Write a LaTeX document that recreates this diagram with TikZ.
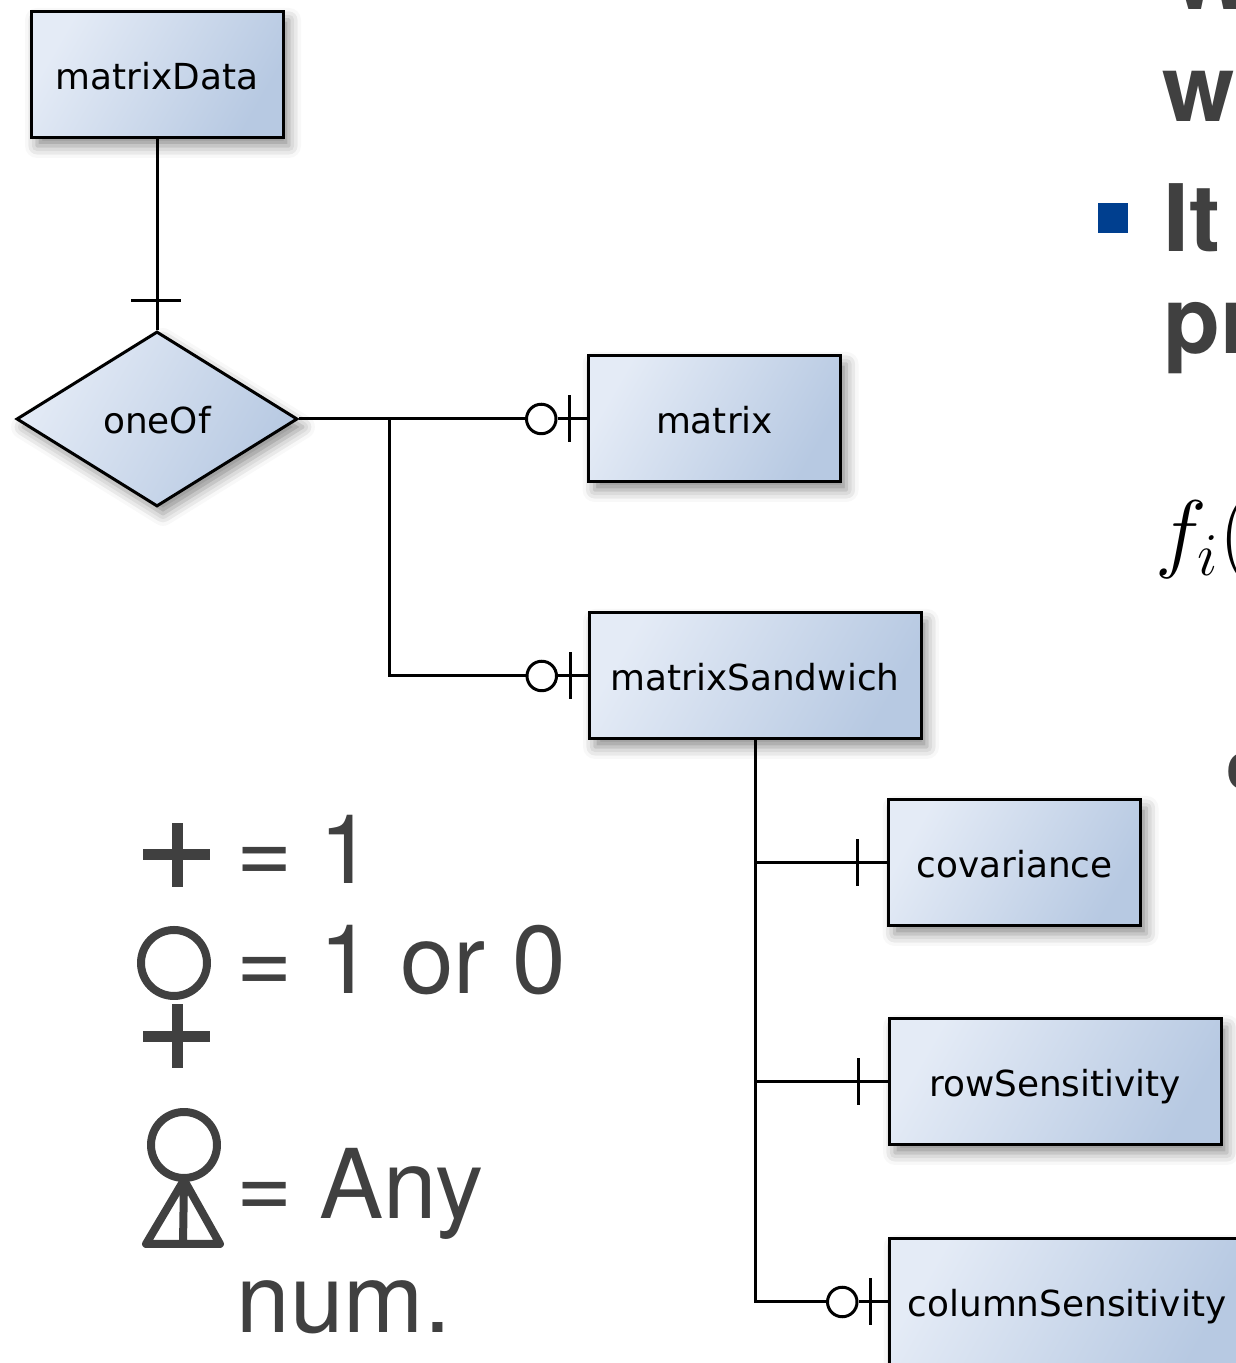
\documentclass[tikz,border=0pt]{standalone}
\usepackage{xcolor}
\usepackage{fontspec}
\usepackage{tikz}
\setmainfont{DejaVu Sans}
\setsansfont{TeX Gyre Heros}
\usetikzlibrary{positioning,shapes.geometric,shadows.blur}

\definecolor{boxlight}{HTML}{E4EBF6}
\definecolor{boxdark}{HTML}{B7C9E2}
\definecolor{slidegray}{HTML}{404040}
\definecolor{slideblue}{HTML}{003F8F}

\tikzset{
    boxlook/.style={draw=black, line width=.03cm, top color=boxlight, bottom color=boxdark, shading angle=60,
                    blur shadow={shadow xshift=.06cm, shadow yshift=-.08cm, shadow blur radius=.12cm, shadow opacity=45}},
    entity/.style={boxlook, rectangle, minimum width=2.52cm, minimum height=1.26cm, inner sep=.0cm,
                   text height=.30cm, text depth=0pt, font=\fontsize{10.2}{12}\selectfont},
    choice/.style={boxlook, diamond, aspect=1.6, minimum width=2.81cm, minimum height=1.75cm, inner sep=0pt,
                   text height=.30cm, text depth=0pt, font=\fontsize{10.2}{12}\selectfont},
    tickv/.style={rectangle, fill=black, minimum width=.03cm, minimum height=.47cm, inner sep=0pt, outer sep=0pt},
    tickh/.style={rectangle, fill=black, minimum width=.5cm, minimum height=.03cm, inner sep=0pt, outer sep=0pt},
    zerocirc/.style={circle, draw=black, fill=white, line width=.03cm, minimum size=.295cm, inner sep=0pt},
    link/.style={draw=black, line width=.03cm},
    legendtext/.style={anchor=base west, inner sep=0pt, text=slidegray, align=left,
                       font=\sffamily\fontsize{27.4}{32.4}\selectfont},
    slidetext/.style={legendtext, font=\sffamily\bfseries\fontsize{26.5}{32.4}\selectfont},
    plusline/.style={draw=slidegray, line width=.11cm},
    legendline/.style={draw=slidegray, line width=.08cm, line join=round}
}

\begin{document}
\begin{tikzpicture}
    \useasboundingbox (0,0) rectangle (12.36,13.63);

    \node[entity] (matrix_data) at (1.57, 12.88) {matrixData};
    \node[choice] (one_of) at (1.57, 9.44) {oneOf};
    \node[entity] (matrix) at (7.145, 9.44) {matrix};
    \node[entity, minimum width=3.32cm] (matrix_sandwich) at (7.55, 6.87) {matrixSandwich};
    \node[entity] (covariance) at (10.145, 5.00) {covariance};
    \node[entity, minimum width=3.32cm] (row_sensitivity) at (10.55, 2.81) {rowSensitivity};
    \node[entity, anchor=west, minimum width=3.55cm] (column_sensitivity) at (8.88, 0.61) {columnSensitivity};

    % Cardinality marks
    \node[tickh] (tick_data) at (1.56, 10.62) {};
    \node[tickv, left=.16cm of matrix.west] (tick_matrix) {};
    \node[zerocirc, left=.105cm of tick_matrix] (zero_matrix) {};
    \node[tickv, left=.16cm of matrix_sandwich.west] (tick_sandwich) {};
    \node[zerocirc, left=.105cm of tick_sandwich] (zero_sandwich) {};
    \node[tickv, left=.28cm of covariance.west] (tick_covariance) {};
    \node[tickv, left=.28cm of row_sensitivity.west] (tick_row) {};
    \node[tickv, left=.16cm of column_sensitivity.west] (tick_column) {};
    \node[zerocirc, left=.105cm of tick_column] (zero_column) {};

    \coordinate (fork) at (3.89, 9.44);
    \coordinate (fork_cov) at (7.55, 5.00);
    \coordinate (fork_row) at (7.55, 2.81);

    % Define connections
    \path[link]
    (matrix_data) -- (one_of)
    (one_of) -- (zero_matrix)
    (zero_matrix) -- (matrix)
    (fork) |- (zero_sandwich)
    (zero_sandwich) -- (matrix_sandwich)
    (matrix_sandwich) |- (zero_column)
    (zero_column) -- (column_sensitivity)
    (fork_cov) -- (covariance)
    (fork_row) -- (row_sensitivity);

    % Legend
    \path[plusline] (1.43, 5.08) -- (2.10, 5.08) (1.77, 4.76) -- (1.77, 5.40);
    \draw[legendline] (1.74, 4.00) circle (.33);
    \path[plusline] (1.43, 3.26) -- (2.10, 3.26) (1.77, 2.95) -- (1.77, 3.59);
    \draw[legendline] (1.84, 2.18) circle (.33);
    \path[legendline] (1.84, 1.83) -- (2.20, 1.19) -- (1.46, 1.19) -- cycle (1.84, 1.83) -- (1.83, 1.19);
    \node[legendtext] (legend_one) at (2.36, 4.79) {= 1};
    \node[legendtext] (legend_opt) at (2.36, 3.69) {= 1 or 0};
    \node[legendtext] (legend_any) at (2.36, 0.31) {= Any\\num.};

    % Slide text behind the diagram
    \node[slidetext] (text_a) at (11.68, 13.53) {W};
    \node[slidetext] (text_b) at (11.62, 12.41) {w};
    \node[rectangle, fill=slideblue, minimum size=.30cm, inner sep=0pt] (bullet) at (11.13, 11.45) {};
    \node[slidetext] (text_c) at (11.63, 11.11) {It};
    \node[slidetext] (text_d) at (11.63, 10.09) {pr};
    \node[anchor=base west, inner sep=0pt, font=\fontsize{26.5}{32}\selectfont] (text_e) at (11.55, 8.01) {$f_i($};
    \node[slidetext, font=\sffamily\bfseries\fontsize{19}{22}\selectfont] (text_f) at (12.26, 5.73) {c};
\end{tikzpicture}
\end{document}
